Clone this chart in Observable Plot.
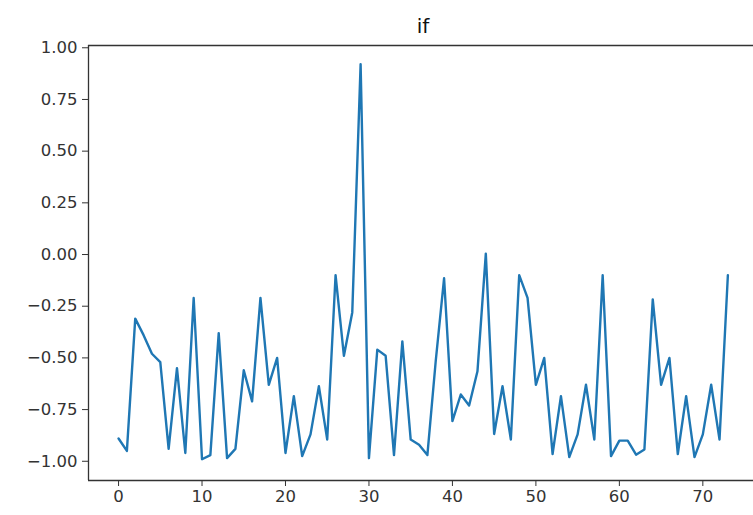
<!DOCTYPE html>
<html><head><meta charset="utf-8">
<script src="https://cdn.jsdelivr.net/npm/d3@7"></script>
<script src="https://cdn.jsdelivr.net/npm/@observablehq/plot@0.6"></script>
<style>
body{margin:0;background:#fff;}
#wrap{position:relative;width:753px;}
#title{height:38px;position:relative;font-family:"DejaVu Sans",sans-serif;font-size:20px;color:#111;}
#title span{position:absolute;left:423px;top:16px;transform:translateX(-50%);line-height:20px;}
</style>
</head><body>
<div id="wrap"><div id="title"><span></span></div><div id="chart"></div></div>
<script>
const title = "if";
const values = [
  -0.89, -0.95, -0.31, -0.39, -0.48, -0.52, -0.94, -0.55, -0.96, -0.21,
  -0.99, -0.97, -0.38, -0.985, -0.94, -0.56, -0.71, -0.21, -0.63, -0.50,
  -0.96, -0.685, -0.975, -0.87, -0.637, -0.895, -0.10, -0.49, -0.28, 0.92,
  -0.985, -0.46, -0.49, -0.97, -0.42, -0.895, -0.92, -0.97, -0.515, -0.115,
  -0.806, -0.677, -0.73, -0.565, 0.004, -0.868, -0.637, -0.895, -0.10, -0.21,
  -0.63, -0.50, -0.965, -0.685, -0.98, -0.87, -0.63, -0.895, -0.10, -0.975,
  -0.90, -0.90, -0.968, -0.943, -0.217, -0.63, -0.50, -0.965, -0.685, -0.98,
  -0.87, -0.63, -0.895, -0.10
];
const xTicks = [0, 10, 20, 30, 40, 50, 60, 70];
const yTicks = [-1.00, -0.75, -0.50, -0.25, 0.00, 0.25, 0.50, 0.75, 1.00];
const xDomain = [-3.6, 76.07];
const yDomain = [-1.093, 1.011];

document.querySelector("#title span").textContent = title;
const data = values.map((v, i) => ({i, v}));

const chart = Plot.plot({
  width: 753,
  height: 477,
  marginLeft: 88,
  marginRight: 0,
  marginTop: 7,
  marginBottom: 35,
  style: {fontFamily: "DejaVu Sans, sans-serif", fontSize: "16.5px", color: "#333", background: "transparent", overflow: "visible"},
  x: {domain: xDomain, label: null},
  y: {domain: yDomain, label: null},
  marks: [
    Plot.ruleY([yDomain[0], yDomain[1]], {stroke: "#333", strokeWidth: 1.3}),
    Plot.ruleX([xDomain[0]], {stroke: "#333", strokeWidth: 1.3}),
    Plot.line(data, {x: "i", y: "v", stroke: "#1f77b4", strokeWidth: 2.4}),
    Plot.axisX(xTicks, {tickSize: 6, tickPadding: 4, tickFormat: d => String(d), label: null, stroke: "#333", fill: "#333"}),
    Plot.axisY(yTicks, {tickSize: 6, tickPadding: 5, tickFormat: d3.format(".2f"), label: null, stroke: "#333", fill: "#333"})
  ]
});
document.getElementById("chart").appendChild(chart);
</script>
</body></html>
